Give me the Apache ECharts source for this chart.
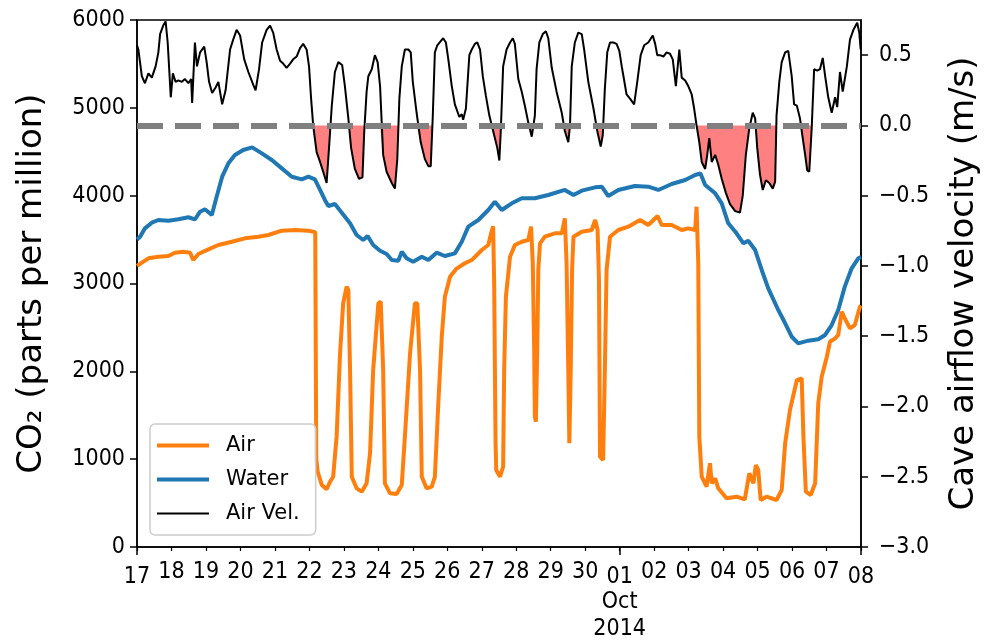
<!DOCTYPE html>
<html>
<head>
<meta charset="utf-8">
<script src="https://cdn.jsdelivr.net/npm/echarts@6/dist/echarts.min.js"></script>
<style>
  html, body { margin: 0; padding: 0; background: #fff; }
  #chart { width: 984px; height: 642px; }
</style>
</head>
<body>
<div id="chart"></div>
<script>
// x values are days since 17 Sep 2014 00:00
var dayLabels = ['17','18','19','20','21','22','23','24','25','26','27','28','29','30',
                 '01','02','03','04','05','06','07','08'];
var majorDays = [0, 14, 21];

// CO2 in cave air (ppm)
var airPts = [
  [0.00,3200],[0.04,3211],[0.33,3287],[0.62,3305],[0.91,3313],[1.10,3351],[1.34,3362],[1.54,3351],
  [1.63,3267],[1.78,3336],[2.07,3389],[2.36,3438],[2.75,3476],[3.13,3514],[3.52,3533],[3.81,3552],
  [4.20,3601],[4.58,3609],[4.97,3601],[5.17,3585],[5.20,1000],[5.24,860],[5.36,706],[5.50,657],
  [5.60,743],[5.69,800],[5.79,1256],[5.89,2205],[5.98,2774],[6.08,2964],[6.13,2926],[6.18,2015],
  [6.23,800],[6.37,668],[6.52,630],[6.66,725],[6.76,1067],[6.85,2015],[7.00,2774],[7.07,2793],
  [7.14,2015],[7.19,725],[7.34,611],[7.53,603],[7.68,706],[7.77,1256],[7.92,2205],[8.06,2774],
  [8.13,2774],[8.21,2015],[8.26,800],[8.40,668],[8.55,687],[8.64,800],[8.74,1636],[8.84,2394],
  [8.93,2850],[9.08,3077],[9.27,3170],[9.51,3230],[9.71,3267],[10.00,3381],[10.19,3438],[10.27,3571],
  [10.33,3650],[10.36,3000],[10.40,1200],[10.42,877],[10.53,800],[10.62,914],[10.65,2015],[10.70,2850],
  [10.82,3305],[10.96,3438],[11.16,3476],[11.35,3495],[11.43,3647],[11.48,3230],[11.52,2243],[11.54,1484],
  [11.57,1427],[11.61,2243],[11.64,3154],[11.69,3457],[11.83,3533],[12.12,3571],[12.32,3571],[12.41,3742],
  [12.46,3230],[12.51,2000],[12.54,1181],[12.58,2000],[12.62,3154],[12.66,3533],[12.90,3590],[13.19,3609],
  [13.29,3723],[13.36,3609],[13.40,3040],[13.43,1028],[13.52,990],[13.57,2000],[13.62,3154],[13.72,3533],
  [13.96,3609],[14.25,3647],[14.59,3723],[14.83,3666],[15.10,3768],[15.22,3666],[15.51,3666],[15.80,3609],
  [15.99,3628],[16.19,3609],[16.23,3874],[16.28,3230],[16.31,1256],[16.38,800],[16.52,687],[16.62,953],
  [16.67,725],[16.77,782],[16.86,668],[17.10,554],[17.39,573],[17.63,543],[17.76,839],[17.88,725],
  [17.95,933],[18.02,877],[18.09,535],[18.26,573],[18.55,535],[18.70,649],[18.80,1181],[18.94,1560],
  [19.14,1901],[19.28,1921],[19.33,1256],[19.40,630],[19.54,592],[19.67,725],[19.76,1636],[19.86,1939],
  [20.01,2167],[20.10,2337],[20.25,2376],[20.34,2414],[20.44,2679],[20.53,2603],[20.68,2490],[20.82,2527],
  [20.97,2736],[21.00,2750]
];

// CO2 in cave water (ppm)
var waterPts = [
  [0.00,3500],[0.09,3533],[0.23,3628],[0.43,3692],[0.62,3723],[0.91,3715],[1.20,3731],[1.49,3754],
  [1.68,3731],[1.83,3817],[1.97,3845],[2.17,3780],[2.31,3988],[2.47,4216],[2.65,4368],[2.84,4463],
  [3.08,4520],[3.34,4550],[3.62,4482],[3.91,4406],[4.20,4311],[4.49,4216],[4.78,4186],[4.97,4216],
  [5.16,4186],[5.31,4065],[5.45,3951],[5.55,3882],[5.74,3905],[5.94,3806],[6.18,3685],[6.37,3552],
  [6.56,3495],[6.69,3541],[6.85,3438],[7.05,3373],[7.24,3336],[7.39,3267],[7.58,3260],[7.68,3362],
  [7.82,3287],[8.01,3248],[8.26,3305],[8.45,3267],[8.69,3351],[8.93,3313],[9.22,3343],[9.42,3476],
  [9.61,3647],[9.90,3723],[10.19,3837],[10.38,3931],[10.58,3837],[10.87,3913],[11.16,3970],[11.54,3970],
  [11.93,4008],[12.41,4065],[12.66,4008],[12.90,4057],[13.29,4095],[13.48,4102],[13.67,3996],[13.96,4065],
  [14.44,4110],[14.83,4102],[15.12,4065],[15.51,4133],[15.90,4178],[16.19,4235],[16.34,4254],[16.48,4121],
  [16.77,4027],[16.96,3913],[17.15,3685],[17.39,3571],[17.59,3457],[17.73,3487],[17.93,3381],[18.12,3154],
  [18.31,2945],[18.60,2698],[18.80,2547],[18.99,2394],[19.18,2319],[19.47,2349],[19.76,2365],[19.96,2414],
  [20.15,2527],[20.34,2698],[20.53,2964],[20.73,3173],[20.92,3287],[21.00,3300]
];

// cave airflow velocity (m/s)
var velPts = [
  [0.00,0.57],[0.04,0.54],[0.14,0.35],[0.23,0.30],[0.33,0.37],[0.43,0.34],[0.54,0.42],[0.62,0.52],
  [0.67,0.65],[0.76,0.71],[0.83,0.74],[0.89,0.59],[0.98,0.20],[1.04,0.37],[1.08,0.38],[1.12,0.31],
  [1.20,0.32],[1.30,0.31],[1.39,0.33],[1.49,0.30],[1.57,0.33],[1.60,0.16],[1.68,0.59],[1.74,0.42],
  [1.83,0.52],[1.95,0.56],[2.02,0.45],[2.09,0.31],[2.18,0.23],[2.28,0.27],[2.36,0.31],[2.47,0.15],
  [2.57,0.25],[2.70,0.54],[2.79,0.61],[2.89,0.68],[2.99,0.64],[3.11,0.47],[3.23,0.38],[3.37,0.29],
  [3.44,0.25],[3.54,0.40],[3.63,0.59],[3.76,0.68],[3.86,0.71],[3.95,0.66],[4.05,0.54],[4.15,0.46],
  [4.24,0.44],[4.34,0.41],[4.44,0.44],[4.53,0.47],[4.63,0.49],[4.73,0.55],[4.82,0.58],[4.92,0.54],
  [4.99,0.42],[5.05,0.19],[5.11,0.00],[5.21,-0.19],[5.31,-0.26],[5.40,-0.33],[5.50,-0.41],[5.57,-0.16],
  [5.65,0.14],[5.74,0.38],[5.84,0.45],[5.95,0.43],[6.03,0.28],[6.13,0.05],[6.21,-0.16],[6.32,-0.31],
  [6.44,-0.38],[6.54,-0.37],[6.59,-0.05],[6.66,0.24],[6.71,0.35],[6.81,0.40],[6.90,0.50],[6.98,0.45],
  [7.05,0.28],[7.14,-0.21],[7.24,-0.33],[7.39,-0.41],[7.48,-0.45],[7.55,-0.24],[7.61,0.19],[7.68,0.42],
  [7.77,0.54],[7.87,0.54],[7.94,0.52],[8.00,0.31],[8.11,0.09],[8.23,-0.12],[8.35,-0.24],[8.45,-0.29],
  [8.52,-0.29],[8.58,0.07],[8.64,0.52],[8.71,0.57],[8.81,0.60],[8.88,0.62],[8.96,0.59],[9.03,0.47],
  [9.13,0.28],[9.22,0.15],[9.35,0.06],[9.42,0.08],[9.46,0.04],[9.54,0.12],[9.64,0.50],[9.71,0.54],
  [9.80,0.58],[9.87,0.59],[9.95,0.54],[10.03,0.35],[10.12,0.21],[10.22,0.07],[10.33,-0.04],[10.45,-0.16],
  [10.51,-0.25],[10.55,-0.05],[10.62,0.42],[10.72,0.54],[10.82,0.59],[10.90,0.62],[10.96,0.58],[11.06,0.33],
  [11.16,0.24],[11.25,0.14],[11.35,0.02],[11.45,-0.08],[11.49,-0.09],[11.54,0.07],[11.59,0.40],[11.67,0.59],
  [11.77,0.65],[11.86,0.67],[11.93,0.62],[12.03,0.41],[12.17,0.24],[12.32,0.09],[12.41,-0.04],[12.51,-0.12],
  [12.56,0.00],[12.61,0.42],[12.70,0.59],[12.80,0.66],[12.90,0.65],[12.97,0.54],[13.09,0.31],[13.24,0.12],
  [13.35,-0.04],[13.45,-0.15],[13.51,-0.07],[13.57,0.26],[13.64,0.52],[13.72,0.59],[13.82,0.59],[13.91,0.58],
  [13.99,0.53],[14.06,0.42],[14.11,0.35],[14.20,0.22],[14.30,0.19],[14.42,0.15],[14.51,0.31],[14.61,0.50],
  [14.71,0.57],[14.83,0.59],[14.96,0.64],[15.03,0.58],[15.09,0.50],[15.17,0.50],[15.27,0.49],[15.36,0.52],
  [15.46,0.51],[15.54,0.47],[15.63,0.28],[15.73,0.54],[15.80,0.34],[15.90,0.32],[15.99,0.28],[16.09,0.22],
  [16.16,0.12],[16.23,0.00],[16.31,-0.12],[16.38,-0.26],[16.48,-0.31],[16.54,-0.21],[16.60,-0.09],[16.67,-0.26],
  [16.77,-0.21],[16.86,-0.28],[16.96,-0.38],[17.08,-0.48],[17.20,-0.56],[17.35,-0.61],[17.49,-0.62],[17.57,-0.50],
  [17.66,-0.21],[17.76,-0.02],[17.86,0.09],[17.93,0.05],[17.99,-0.16],[18.07,-0.35],[18.15,-0.46],[18.24,-0.39],
  [18.34,-0.41],[18.44,-0.45],[18.51,-0.40],[18.55,0.07],[18.63,0.31],[18.70,0.45],[18.80,0.52],[18.89,0.53],
  [18.99,0.35],[19.06,0.15],[19.14,0.14],[19.23,0.05],[19.31,-0.09],[19.38,-0.21],[19.44,-0.32],[19.50,-0.33],
  [19.57,-0.02],[19.64,0.40],[19.73,0.39],[19.81,0.40],[19.89,0.48],[19.96,0.35],[20.05,0.20],[20.15,0.09],
  [20.25,0.20],[20.31,0.13],[20.39,0.38],[20.47,0.24],[20.59,0.42],[20.68,0.61],[20.78,0.68],[20.89,0.73],
  [20.95,0.66],[20.99,0.54]
];

// negative part of the velocity, for the shaded region (like fill_between)
function negPart(pts) {
  var out = [];
  for (var i = 0; i < pts.length; i++) {
    var p = pts[i];
    if (i > 0) {
      var q = pts[i - 1];
      if ((q[1] < 0 && p[1] > 0) || (q[1] > 0 && p[1] < 0)) {
        out.push([q[0] + (0 - q[1]) * (p[0] - q[0]) / (p[1] - q[1]), 0]);
      }
    }
    out.push([p[0], Math.min(p[1], 0)]);
  }
  return out;
}

var FONT = "'DejaVu Sans Condensed', 'DejaVu Sans', sans-serif";
var FONT_N = "'DejaVu Sans', sans-serif";

function dayFmt(v) {
  var i = Math.round(v);
  if (majorDays.indexOf(i) >= 0) {
    if (i === 14) return '{maj|' + dayLabels[i] + '}\n{sub|Oct}\n{sub|2014}';
    return '{maj|' + dayLabels[i] + '}';
  }
  return dayLabels[i];
}

function velFmt(v) {
  return v.toFixed(1).replace('-', '\u2212');
}

var chart = echarts.init(document.getElementById('chart'), null, {renderer: 'canvas'});

chart.setOption({
  animation: false,
  backgroundColor: '#fff',
  textStyle: {fontFamily: FONT},
  grid: {
    left: 137, right: 123, top: 20, bottom: 95,
    outerBoundsMode: 'none', containLabel: false,
    show: true, borderColor: '#000', borderWidth: 1.5, backgroundColor: 'transparent'
  },
  legend: {
    orient: 'vertical',
    left: 150, top: 424,
    data: [
      {name: 'Air', icon: 'path://M0,0L52,0L52,4L0,4Z'},
      {name: 'Water', icon: 'path://M0,0L52,0L52,4L0,4Z'},
      {name: 'Air Vel.', icon: 'path://M0,0L52,0L52,2L0,2Z'}
    ],
    itemWidth: 52, itemHeight: 14, itemGap: 13,
    padding: [11, 16, 11, 7],
    backgroundColor: 'rgba(255,255,255,0.8)',
    borderColor: '#cccccc', borderWidth: 1.5, borderRadius: 5,
    textStyle: {fontFamily: FONT_N, fontSize: 21, color: '#000', padding: [0, 0, 0, 12]}
  },
  xAxis: [{
    type: 'value', min: 0, max: 21, interval: 1,
    axisLine: {show: true, onZero: false, lineStyle: {color: '#000', width: 1.5}},
    axisTick: {show: true, length: 4, lineStyle: {color: '#000', width: 1.2}},
    splitLine: {show: false},
    axisLabel: {
      color: '#000', fontSize: 23, margin: 14, fontFamily: FONT,
      formatter: dayFmt,
      rich: {
        maj: {fontSize: 23, fontFamily: FONT, color: '#000', padding: [5, 0, 0, 0]},
        sub: {fontSize: 23, fontFamily: FONT, color: '#000', lineHeight: 27}
      }
    }
  }, {
    type: 'value', min: 0, max: 21, position: 'bottom',
    axisLine: {show: false, onZero: false},
    axisTick: {show: true, length: 8, customValues: majorDays, lineStyle: {color: '#000', width: 1.5}},
    axisLabel: {show: false},
    splitLine: {show: false}
  }],
  yAxis: [{
    type: 'value', min: 0, max: 6000, interval: 1000,
    name: 'CO\u2082 (parts per million)', nameLocation: 'middle', nameGap: 88,
    nameTextStyle: {fontFamily: FONT_N, fontSize: 34, color: '#000'},
    axisLine: {show: true, onZero: false, lineStyle: {color: '#000', width: 1.5}},
    axisTick: {show: true, length: 7, lineStyle: {color: '#000', width: 1.5}},
    axisLabel: {color: '#000', fontSize: 23, margin: 12, fontFamily: FONT, formatter: function (v) { return String(v); }},
    splitLine: {show: false}
  }, {
    type: 'value', min: -3, max: 0.75, interval: 0.5, position: 'right',
    name: 'Cave airflow velocity (m/s)', nameLocation: 'middle', nameGap: 86,
    nameTextStyle: {fontFamily: FONT_N, fontSize: 34, color: '#000'},
    axisLine: {show: true, onZero: false, lineStyle: {color: '#000', width: 1.5}},
    axisTick: {show: true, length: 7, lineStyle: {color: '#000', width: 1.5}},
    axisLabel: {color: '#000', fontSize: 23, margin: 18, fontFamily: FONT, formatter: velFmt, showMaxLabel: false},
    splitLine: {show: false}
  }],
  series: [{
    name: 'Air', type: 'line', yAxisIndex: 0, data: airPts,
    symbol: 'none', lineStyle: {color: '#ff7f0e', width: 4}, itemStyle: {color: '#ff7f0e'}, z: 2
  }, {
    name: 'Water', type: 'line', yAxisIndex: 0, data: waterPts,
    symbol: 'none', lineStyle: {color: '#1f77b4', width: 4}, itemStyle: {color: '#1f77b4'}, z: 2
  }, {
    name: 'neg', type: 'line', yAxisIndex: 1, data: negPart(velPts),
    symbol: 'none', silent: true,
    lineStyle: {width: 0, opacity: 0},
    areaStyle: {color: '#ff8080', opacity: 1},
    z: 3,
    markLine: {
      silent: true, symbol: ['none', 'none'], label: {show: false},
      lineStyle: {color: '#808080', width: 6, type: [26, 12]},
      data: [{yAxis: 0}], z: 6
    }
  }, {
    name: 'Air Vel.', type: 'line', yAxisIndex: 1, data: velPts,
    symbol: 'none', lineStyle: {color: '#000', width: 2}, itemStyle: {color: '#000'}, z: 4
  }]
});
</script>
</body>
</html>
